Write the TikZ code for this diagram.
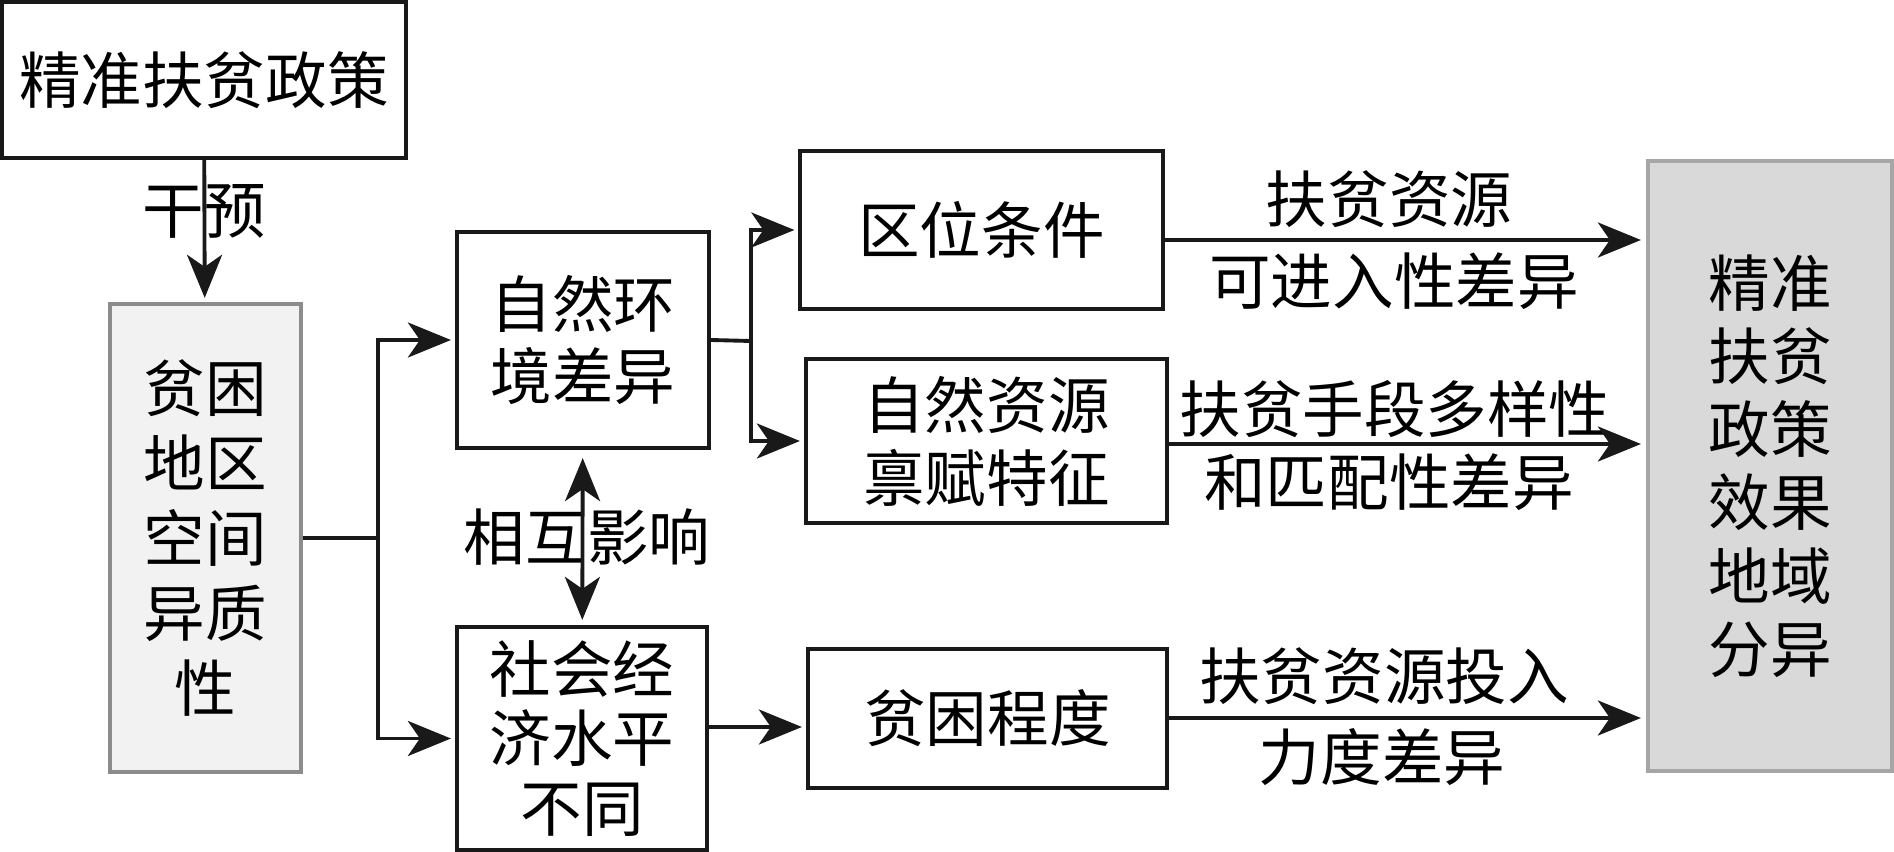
\documentclass[tikz,border=0pt]{standalone}
\usepackage{fontspec}
\usetikzlibrary{arrows.meta}
\newfontfamily\cjk{Noto Sans CJK SC}

\begin{document}
\begin{tikzpicture}[
  x=0.01cm, y=-0.01cm,
  every node/.style={font=\cjk\fontsize{17.5}{21}\selectfont, align=center, inner sep=0pt},
  hop/.style={draw=black!90, line width=1.15pt},
  hopnhat/.style={draw=black!45, fill=black!5, line width=1.15pt},
  hopxam/.style={draw=black!35, fill=black!15, line width=1.15pt},
  muiten/.style={-{Stealth[length=4.3mm, width=3.5mm, inset=1.2mm]}, line width=1.1pt, draw=black!90},
  haichieu/.style={{Stealth[length=4.3mm, width=3.5mm, inset=1.2mm]}-{Stealth[length=4.3mm, width=3.5mm, inset=1.2mm]}, line width=1.1pt, draw=black!90}
]
  \useasboundingbox (0,0) rectangle (1894,852);
  % các hộp
  \node[hop, minimum width=4.04cm, minimum height=1.56cm] (chinhsach) at (204,80) {精准扶贫政策};
  \node[hopnhat, minimum width=1.9cm, minimum height=4.68cm, font=\cjk\fontsize{17.5}{21.3}\selectfont] (khonggian) at (205.5,538) {贫困\\地区\\空间\\异质\\性};
  \node[hop, minimum width=2.52cm, minimum height=2.16cm, font=\cjk\fontsize{17.5}{20.5}\selectfont] (tunhien) at (583,340) {自然环\\境差异};
  \node[hop, minimum width=2.5cm, minimum height=2.23cm, font=\cjk\fontsize{17.5}{19.8}\selectfont] (xahoi) at (582,738.5) {社会经\\济水平\\不同};
  \node[hop, minimum width=3.62cm, minimum height=1.58cm] (quwei) at (981.5,230) {区位条件};
  \node[hop, minimum width=3.61cm, minimum height=1.63cm, font=\cjk\fontsize{17.5}{20.8}\selectfont] (ziyuan) at (986.5,441) {自然资源\\禀赋特征};
  \node[hop, minimum width=3.59cm, minimum height=1.39cm] (pinkun) at (987.5,718.5) {贫困程度};
  \node[hopxam, minimum width=2.44cm, minimum height=6.1cm, font=\cjk\fontsize{17.5}{20.8}\selectfont] (ketqua) at (1770,466) {精准\\扶贫\\政策\\效果\\地域\\分异};

  % nhãn
  \node (ganyu) at (204,211) {干预};
  \node (xianghu) at (587,537) {相互影响};
  \node (nhan1a) at (1389,199) {扶贫资源};
  \node (nhan1b) at (1394,281) {可进入性差异};
  \node (nhan2a) at (1395,409) {扶贫手段多样性};
  \node (nhan2b) at (1389,482) {和匹配性差异};
  \node (nhan3a) at (1384,676) {扶贫资源投入};
  \node (nhan3b) at (1382,757) {力度差异};

  % mũi tên
  \coordinate (re1) at (378,538);
  \coordinate (re2) at (751,341);
  \draw[muiten, shorten >=0.04cm] (chinhsach) -- (khonggian);
  \draw[line width=1.1pt, draw=black!90] (khonggian.east) -- (re1);
  \draw[muiten, shorten >=0.04cm] (re1) |- (tunhien.west);
  \draw[muiten, shorten >=0.04cm] (re1) |- (xahoi.west);
  \draw[haichieu, shorten >=0.05cm, shorten <=0.08cm] (tunhien) -- (xahoi);
  \draw[line width=1.1pt, draw=black!90] (tunhien.east) -- (re2);
  \draw[muiten, shorten >=0.04cm] (re2) |- (quwei.west);
  \draw[muiten, shorten >=0.04cm] (re2) |- (ziyuan.west);
  \draw[muiten, shorten >=0.04cm] (xahoi.east |- 0,727) -- (pinkun.west |- 0,727);
  \draw[muiten, shorten >=0.05cm] (quwei.east |- 0,240) -- (ketqua.west |- 0,240);
  \draw[muiten, shorten >=0.05cm] (ziyuan.east |- 0,444) -- (ketqua.west |- 0,444);
  \draw[muiten, shorten >=0.05cm] (pinkun.east |- 0,718) -- (ketqua.west |- 0,718);
\end{tikzpicture}
\end{document}
